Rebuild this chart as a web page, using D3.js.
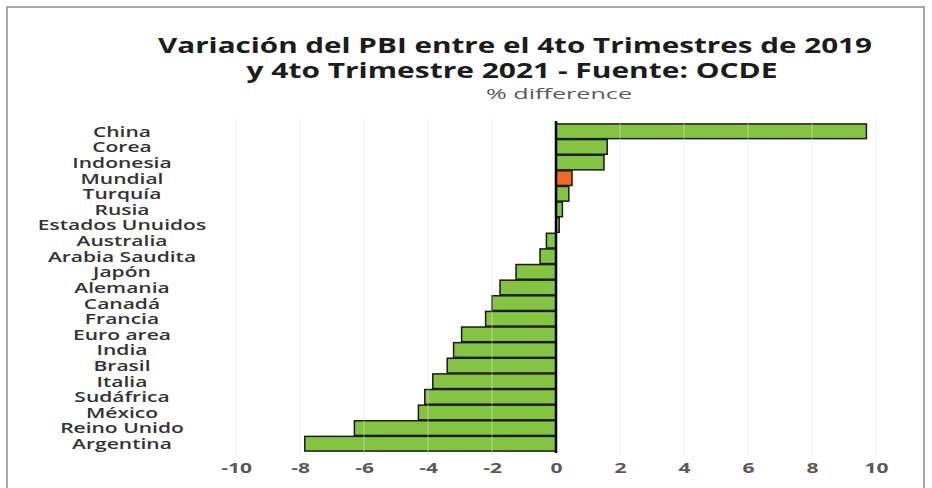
<!DOCTYPE html>
<html>
    <script src="https://d3js.org/d3.v7.min.js"></script>
    <head>
        <meta charset="utf-8">
        <style>
            body { margin: 0; background: #fff; }
        </style>
    </head>
    <body>
        <svg id="chart"></svg>

        <script>
            const countries = ["China", "Corea", "Indonesia", "Mundial", "Turquía", "Rusia", "Estados Unuidos",
                "Australia", "Arabia Saudita", "Japón", "Alemania", "Canadá", "Francia", "Euro area", "India",
                "Brasil", "Italia", "Sudáfrica", "México", "Reino Unido", "Argentina"];
            const pctDiff = [9.7, 1.6, 1.5, 0.5, 0.4, 0.2, 0.1,
                -0.3, -0.5, -1.25, -1.75, -2.0, -2.2, -2.95, -3.2,
                -3.4, -3.85, -4.1, -4.3, -6.3, -7.85];
            const highlight = ["Mundial"];
            const xTicks = [-10, -8, -6, -4, -2, 0, 2, 4, 6, 8, 10];

            const width = 932;
            const height = 488;

            const data = countries.map((c, i) => ({ name: c, value: pctDiff[i] }));

            const x = d3.scaleLinear().domain([-10, 10]).range([236, 876]);
            const y = d3.scaleBand().domain(countries).range([123, 452]).padding(0.06);

            const svg = d3.select("#chart")
                .attr("viewBox", [0, 0, width, height])
                .attr("width", width)
                .attr("height", height);

            // frame
            svg.append("rect")
                .attr("x", 7).attr("y", 7)
                .attr("width", 917).attr("height", 490)
                .attr("fill", "none")
                .attr("stroke", "#8a8a8a")
                .attr("stroke-width", 1.5);

            // titles (the source picture is stretched sideways, so glyphs are widened too)
            const title = svg.append("g")
                .attr("font-family", "Open Sans, sans-serif")
                .attr("text-anchor", "middle");
            title.append("text")
                .attr("x", 515).attr("y", 53)
                .attr("font-size", 22).attr("font-weight", "bold").attr("fill", "#1c1c1c")
                .attr("textLength", 714).attr("lengthAdjust", "spacingAndGlyphs")
                .text("Variación del PBI entre el 4to Trimestres de 2019");
            title.append("text")
                .attr("x", 512).attr("y", 78)
                .attr("font-size", 22).attr("font-weight", "bold").attr("fill", "#1c1c1c")
                .attr("textLength", 531).attr("lengthAdjust", "spacingAndGlyphs")
                .text("y 4to Trimestre 2021 - Fuente: OCDE");
            title.append("text")
                .attr("x", 559).attr("y", 99)
                .attr("font-size", 14).attr("fill", "#5a5a5a")
                .attr("textLength", 146).attr("lengthAdjust", "spacingAndGlyphs")
                .text("% difference");

            // background grid
            svg.append("g")
                .selectAll("line")
                .data(xTicks.filter(d => d !== 0))
                .join("line")
                .attr("x1", d => x(d)).attr("x2", d => x(d))
                .attr("y1", 118).attr("y2", 455)
                .attr("stroke", "#f0f0f0")
                .attr("stroke-width", 1.5);

            // bars
            svg.append("g")
                .selectAll("rect")
                .data(data)
                .join("rect")
                .attr("x", d => x(Math.min(0, d.value)))
                .attr("y", d => y(d.name))
                .attr("width", d => Math.abs(x(d.value) - x(0)))
                .attr("height", y.bandwidth())
                .attr("fill", d => highlight.includes(d.name) ? "#f26a21" : "#84c441")
                .attr("stroke", "#1a1a1a")
                .attr("stroke-width", 1.5);

            // faint grid over the bars
            svg.append("g")
                .selectAll("line")
                .data(xTicks.filter(d => d !== 0))
                .join("line")
                .attr("x1", d => x(d)).attr("x2", d => x(d))
                .attr("y1", 118).attr("y2", 455)
                .attr("stroke", "#ffffff")
                .attr("stroke-opacity", 0.3)
                .attr("stroke-width", 1.5);

            // zero line
            svg.append("line")
                .attr("x1", x(0)).attr("x2", x(0))
                .attr("y1", 121).attr("y2", 453)
                .attr("stroke", "#000")
                .attr("stroke-width", 2.5);

            // category labels (centered, widened like the source)
            svg.append("g")
                .attr("font-family", "Open Sans, sans-serif")
                .attr("font-size", 15)
                .attr("font-weight", 600)
                .attr("fill", "#333")
                .attr("text-anchor", "middle")
                .selectAll("text")
                .data(countries)
                .join("text")
                .attr("x", 122)
                .attr("y", d => y(d) + y.bandwidth() / 2)
                .attr("dy", "0.36em")
                .text(d => d)
                .each(function () {
                    const w = this.getComputedTextLength();
                    d3.select(this).attr("textLength", w * 1.4).attr("lengthAdjust", "spacingAndGlyphs");
                });

            // x axis
            const xAxis = d3.axisBottom(x).tickValues(xTicks).tickSize(0).tickPadding(0)
                .tickFormat(d => String(d));
            const gx = svg.append("g")
                .attr("transform", "translate(0,473)")
                .call(xAxis);
            gx.select(".domain").remove();
            gx.selectAll("text")
                .attr("font-family", "Open Sans, sans-serif")
                .attr("font-size", 15)
                .attr("font-weight", "bold")
                .attr("fill", "#5a5a5a")
                .attr("dy", 0)
                .attr("y", 0)
                .each(function () {
                    const w = this.getComputedTextLength();
                    d3.select(this).attr("textLength", w * 1.4).attr("lengthAdjust", "spacingAndGlyphs");
                });
        </script>
    </body>
</html>
